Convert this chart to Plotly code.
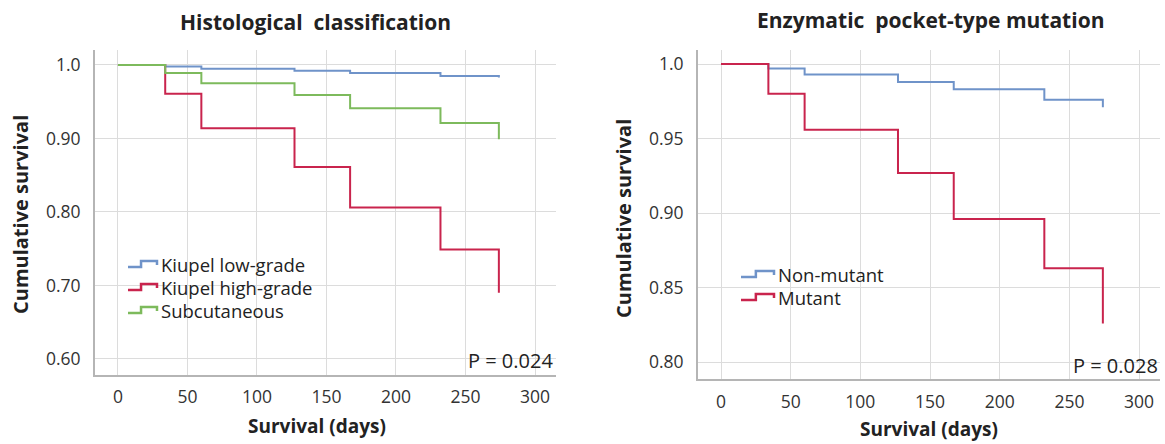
import plotly.graph_objects as go

# ---- data ----
days = [0, 34, 60, 127, 167, 232, 274]

hist_names = ["Kiupel low-grade", "Kiupel high-grade", "Subcutaneous"]
hist_low_grade = [1.0, 0.998, 0.995, 0.992, 0.989, 0.985, 0.983]
hist_high_grade = [1.0, 0.961, 0.914, 0.861, 0.806, 0.749, 0.690]
hist_subcutaneous = [1.0, 0.989, 0.975, 0.959, 0.941, 0.921, 0.899]

mut_names = ["Non-mutant", "Mutant"]
mut_non_mutant = [1.0, 0.997, 0.993, 0.988, 0.983, 0.976, 0.971]
mut_mutant = [1.0, 0.980, 0.956, 0.927, 0.896, 0.863, 0.826]

x_ticks = [0, 50, 100, 150, 200, 250, 300]
left_y_ticks = [1.0, 0.90, 0.80, 0.70, 0.60]
left_y_labels = ["1.0", "0.90", "0.80", "0.70", "0.60"]
right_y_ticks = [1.0, 0.95, 0.90, 0.85, 0.80]
right_y_labels = ["1.0", "0.95", "0.90", "0.85", "0.80"]

BLUE = "#6f93c9"
RED = "#c9244d"
GREEN = "#7dba5c"
FONT = "Open Sans"
W, H = 1165, 444

fig = go.Figure()


def add(x, y, name, color, xa, ya):
    fig.add_trace(go.Scatter(x=x, y=y, mode="lines", line=dict(color=color, width=2, shape="hv"),
                             name=name, xaxis=xa, yaxis=ya, showlegend=False))


add(days, hist_low_grade, hist_names[0], BLUE, "x", "y")
add(days, hist_high_grade, hist_names[1], RED, "x", "y")
add(days, hist_subcutaneous, hist_names[2], GREEN, "x", "y")
add(days, mut_non_mutant, mut_names[0], BLUE, "x2", "y2")
add(days, mut_mutant, mut_names[1], RED, "x2", "y2")


def px_x(p):
    return p / W


def px_y(p):
    return 1 - p / H


axis_common = dict(showgrid=True, gridcolor="#dcdcdc", gridwidth=1, zeroline=False,
                   showline=True, linecolor="#b5b5b5", linewidth=2, ticks="",
                   tickfont=dict(family=FONT, size=17.5, color="#333333"))

fig.update_layout(
    width=W, height=H, margin=dict(l=0, r=0, t=0, b=0),
    paper_bgcolor="white", plot_bgcolor="white",
    font=dict(family=FONT, color="#222222"),
    showlegend=False,
    xaxis=dict(domain=[px_x(95), px_x(556)], range=[-16.5, 315.1], tickvals=x_ticks,
               anchor="y", ticklabelstandoff=5, **axis_common),
    yaxis=dict(domain=[px_y(375), px_y(50)], range=[0.578, 1.0204], tickvals=left_y_ticks,
               ticktext=left_y_labels, anchor="x", ticklabelstandoff=9, **axis_common),
    xaxis2=dict(domain=[px_x(698), px_x(1160)], range=[-16.5, 315.0], tickvals=x_ticks,
                anchor="y2", ticklabelstandoff=6, **axis_common),
    yaxis2=dict(domain=[px_y(379), px_y(50)], range=[0.7888, 1.0094], tickvals=right_y_ticks,
                ticktext=right_y_labels, anchor="x2", ticklabelstandoff=9, **axis_common),
)


def ann(text, x, y, size=16, bold=False, angle=0, xanchor="center"):
    fig.add_annotation(text=f"<b>{text}</b>" if bold else text, x=px_x(x), y=px_y(y),
                       xref="paper", yref="paper", showarrow=False, textangle=angle,
                       xanchor=xanchor, yanchor="middle",
                       font=dict(family=FONT, size=size, color="#222222"))


ann("Histological\u00a0 classification", 315, 22, size=21, bold=True)
ann("Enzymatic\u00a0 pocket-type mutation", 930, 20, size=21, bold=True)
ann("Cumulative survival", 20, 215, size=20, bold=True, angle=-90)
ann("Cumulative survival", 623, 218, size=20, bold=True, angle=-90)
ann("Survival (days)", 317, 426, size=19, bold=True)
ann("Survival (days)", 929, 429, size=19, bold=True)
ann("P = 0.024", 555, 360, size=20, xanchor="right")
ann("P = 0.028", 1160, 365, size=20, xanchor="right")


# ---- manual legends with step-shaped icons ----
def legend_item(name, color, icon_x0, text_x, yc):
    w = text_x - 2 - icon_x0
    pts = [(icon_x0, yc + 3), (icon_x0 + w * 0.45, yc + 3), (icon_x0 + w * 0.45, yc - 3),
           (icon_x0 + w, yc - 3), (icon_x0 + w, yc + 1)]
    path = "M " + " L ".join(f"{px_x(a):.5f},{px_y(b):.5f}" for a, b in pts)
    fig.add_shape(type="path", path=path, xref="paper", yref="paper",
                  line=dict(color=color, width=2.5))
    ann(name, text_x, yc, size=18.5, xanchor="left")


for name, color, yc in zip(hist_names, [BLUE, RED, GREEN], [264, 287, 310]):
    legend_item(name, color, 128, 159, yc)

for name, color, yc in zip(mut_names, [BLUE, RED], [274, 297]):
    legend_item(name, color, 741, 776, yc)

fig.write_html("out.html")
